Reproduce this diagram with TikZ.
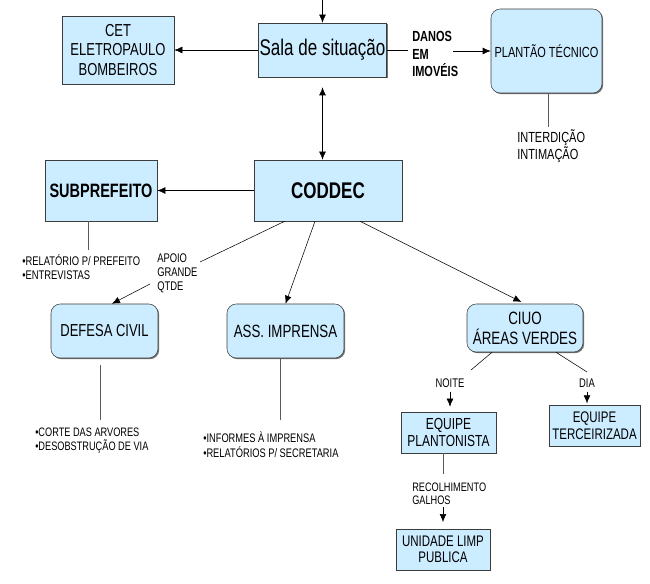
\documentclass[tikz,border=0pt]{standalone}
\usepackage{fontspec}
\setmainfont{Liberation Sans}[FakeStretch=0.75]
\usetikzlibrary{arrows.meta,shadows}

\definecolor{boxblue}{RGB}{204,236,255}
\definecolor{boxline}{RGB}{60,60,60}

\tikzstyle{b} = [rectangle, draw=boxline, fill=boxblue, align=center, inner sep=0pt,
  drop shadow={shadow xshift=0.9pt, shadow yshift=-0.9pt, fill=black!55, opacity=1}]
\tikzstyle{rb} = [b, rounded corners=7pt]
\tikzstyle{txt} = [align=left, inner sep=0pt]
\tikzstyle{l} = [draw, -{Latex[length=6pt,width=5pt]}]
\tikzstyle{ll} = [draw, {Latex[length=6pt,width=5pt]}-{Latex[length=6pt,width=5pt]}]
\tikzstyle{ln} = [draw=black!65]

\newcommand{\fs}[2]{\fontsize{#1}{#2}\selectfont}

\begin{document}
\begin{tikzpicture}[x=0.75pt, y=-0.75pt]
    \useasboundingbox (0,0) rectangle (650,584);

    % Place nodes
    \node [b, minimum width=84pt, minimum height=51pt, font=\fs{13}{14.5}] (cet) at (118,50) {CET\\ELETROPAULO\\BOMBEIROS};
    \node [b, minimum width=96pt, minimum height=40.5pt, font=\fs{17}{19}] (sala) at (322.5,50) {Sala de situação};
    \node [rb, minimum width=83.25pt, minimum height=63pt, font=\fs{11}{13}] (plantao) at (546.5,51) {PLANTÃO TÉCNICO};
    \node [txt, anchor=west, font=\bfseries\fs{11}{13}] (danos) at (412,54) {DANOS\\EM\\IMOVÉIS};
    \node [txt, anchor=west, font=\fs{11}{10}] (interd) at (517,146) {INTERDIÇÃO\\INTIMAÇÃO};

    \node [b, minimum width=111pt, minimum height=45.75pt, font=\bfseries\fs{17}{19}] (coddec) at (328,190.5) {CODDEC};
    \node [b, minimum width=84pt, minimum height=45.75pt, font=\bfseries\fs{14.5}{16}] (subpref) at (101,190.5) {SUBPREFEITO};
    \node [txt, anchor=west, font=\fs{9.4}{11}] (relat) at (22,267) {•RELATÓRIO P/ PREFEITO\\•ENTREVISTAS};
    \node [txt, anchor=west, font=\fs{9.4}{10.5}] (apoio) at (157,273) {APOIO\\GRANDE\\QTDE};

    \node [rb, minimum width=80.25pt, minimum height=40.5pt, font=\fs{13}{15}] (defesa) at (104.5,331) {DEFESA CIVIL};
    \node [rb, minimum width=87.75pt, minimum height=40.5pt, font=\fs{13.3}{15}] (ass) at (285.5,331) {ASS. IMPRENSA};
    \node [rb, minimum width=87pt, minimum height=36pt, font=\fs{13.4}{15}] (ciuo) at (525,328) {CIUO\\ÁREAS VERDES};
    \node [txt, anchor=west, font=\fs{9.2}{10.5}] (corte) at (35,441) {•CORTE DAS ARVORES\\•DESOBSTRUÇÃO DE VIA};
    \node [txt, anchor=west, font=\fs{9.3}{11}] (informes) at (203,445) {•INFORMES À IMPRENSA\\•RELATÓRIOS P/ SECRETARIA};

    \node [txt, font=\fs{9.4}{11}] (noite) at (450,383) {NOITE};
    \node [txt, font=\fs{9.4}{11}] (dia) at (587,383) {DIA};
    \node [b, minimum width=71.25pt, minimum height=30.75pt, font=\fs{12}{13}] (plant) at (448.5,432.5) {EQUIPE\\PLANTONISTA};
    \node [b, minimum width=68.25pt, minimum height=30.75pt, font=\fs{11.5}{12.75}] (terc) at (594.5,425.5) {EQUIPE\\TERCEIRIZADA};
    \node [txt, anchor=west, font=\fs{9.2}{10}] (recolh) at (412,493.5) {RECOLHIMENTO\\GALHOS};
    \node [b, minimum width=70.5pt, minimum height=30.75pt, font=\fs{11.5}{12}] (unid) at (443,549.5) {UNIDADE LIMP\\PUBLICA};

    \coordinate (in) at (322.5,0);
    \coordinate (d1) at (453,51);
    \coordinate (a1) at (200,262);
    \coordinate (a2) at (150,284);
    \coordinate (n1) at (471,370);
    \coordinate (n2) at (587,372);

    % Draw edges
    \path [l] (in) -- (sala.north);
    \path [l] (sala) -- (cet);
    \draw (sala.east) -- ++(21,0);
    \path [l] (d1) -- (plantao.west |- d1);
    \path [ln] (plantao.south -| 548,0) -- ++(0,34);
    \path [ll] ([yshift=-7.5pt]sala.south) -- (sala.south |- coddec.north);

    \path [l] (coddec) -- (subpref);
    \path [ln] ([xshift=-9.75pt]subpref.south) -- ++(0,29);
    \draw ([xshift=23.25pt]coddec.south west) -- (a1);
    \path [l] (a2) -- ([xshift=5.6pt]defesa.north);
    \path [l] ([xshift=-9.75pt]coddec.south) -- (ass.north);
    \path [l, shorten >=3pt] ([xshift=24pt]coddec.south) -- (ciuo.north);

    \path [ln] ([xshift=-3.4pt,yshift=-5pt]defesa.south) -- ++(0,55);
    \path [ln] ([xshift=-4pt]ass.south) -- ++(0,62);

    \draw ([xshift=-24.75pt]ciuo.south) -- (n1);
    \path [l, shorten >=3.75pt] ([yshift=-3pt]noite.south) -- (noite.south |- plant.north);
    \draw ([xshift=23.25pt]ciuo.south) -- (n2);
    \path [l, shorten >=1pt] ([yshift=-3pt]dia.south) -- (dia.south |- terc.north);

    \path [ln] ([xshift=-4.1pt]plant.south) -- ++(0,21);
    \path [l, shorten >=5pt] ([yshift=-2pt]recolh.south -| unid.north) -- (unid.north);

\end{tikzpicture}
\end{document}
